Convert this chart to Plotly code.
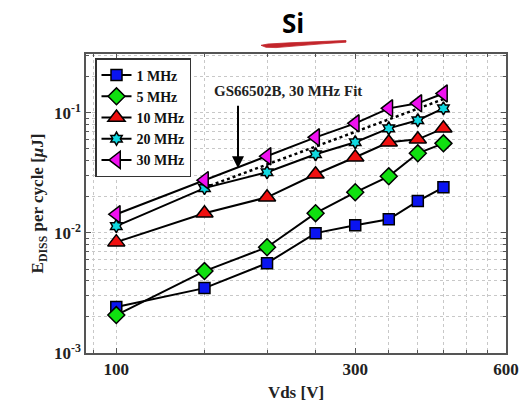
import numpy as np
import plotly.graph_objects as go

# Drain-source voltage sweep [V]
vds = [100, 150, 200, 250, 300, 350, 400, 450]

# Energy dissipated per switching cycle [uJ] at each frequency
e_1mhz = [0.00242, 0.00347, 0.00560, 0.00996, 0.0116, 0.0130, 0.0184, 0.0240]
e_5mhz = [0.00207, 0.00481, 0.00760, 0.0146, 0.0218, 0.0296, 0.0460, 0.0557]
e_10mhz = [0.00838, 0.0146, 0.0198, 0.0308, 0.0427, 0.0569, 0.0602, 0.0743]
e_20mhz = [0.0114, 0.0236, 0.0320, 0.0452, 0.0569, 0.0743, 0.0867, 0.109]
e_30mhz = [0.0143, 0.0275, 0.0435, 0.0625, 0.0818, 0.109, 0.120, 0.145]

# GaN reference device power-law fit at 30 MHz (straight on log-log)
fit_vds = [150, 450]
fit_e = [0.0238, 0.130]

labels = ["1 MHz", "5 MHz", "10 MHz", "20 MHz", "30 MHz"]
x_ticks = [100, 300, 600]
x_tick_text = ["100", "300", "600"]
y_ticks = [0.001, 0.01, 0.1]
y_tick_text = ["10<sup>-3</sup>", "10<sup>-2</sup>", "10<sup>-1</sup>"]
x_minor = [90, 150, 200, 250, 350, 400, 450, 500, 550]
y_minor = [m * d for d in (0.001, 0.01, 0.1) for m in range(2, 10) if m * d < 0.32]

# annotation anchor (arrow tip) for the fit label
arrow_v, arrow_e = 175, 0.0345
label_v, label_e = 220, 0.151

serif = "Liberation Serif"
W, H = 528, 406
L, R, T, B = 86, 22, 54, 53

styles = [
    dict(symbol="square", size=11, color="#0a14f0"),
    dict(symbol="diamond", size=13, color="#10e010"),
    dict(symbol="triangle-up", size=15, color="#f01010"),
    dict(symbol="hexagram", size=10, color="#10d8e0"),
    dict(symbol="triangle-left", size=15, color="#f010f0"),
]
series = [e_1mhz, e_5mhz, e_10mhz, e_20mhz, e_30mhz]

fig = go.Figure()

fig.add_trace(go.Scatter(
    x=fit_vds, y=fit_e, mode="lines", showlegend=False,
    line=dict(color="black", width=2.5, dash="dot"), hoverinfo="skip",
))

for name, ys, st in zip(labels, series, styles):
    fig.add_trace(go.Scatter(
        x=vds, y=ys, mode="lines+markers", name=f"<b>{name}</b>",
        line=dict(color="black", width=2),
        marker=dict(symbol=st["symbol"], size=st["size"], color=st["color"],
                    line=dict(color="black", width=1.5)),
    ))


def px_to_paper(px, py):
    return (px - L) / (W - L - R), (H - B - py) / (H - T - B)


# hand-drawn red underline beneath the title
stroke = [(346, 40.5), (320, 41.6), (290, 42.8), (268, 44.0), (261, 45.3),
          (266, 47.3), (276, 47.6), (300, 45.6), (325, 43.6), (346, 42.2)]
pts = [px_to_paper(a, b) for a, b in stroke]
path = "M " + " L ".join(f"{a:.4f},{b:.4f}" for a, b in pts) + " Z"

fig.add_shape(type="path", path=path, xref="paper", yref="paper",
              fillcolor="#c3252b", line=dict(color="#c3252b", width=0.8))

sx, sy = px_to_paper(293, 23)
fig.add_annotation(text="<b>Si</b>", xref="paper", yref="paper", x=sx, y=sy,
                   showarrow=False, font=dict(family="Open Sans", size=26, color="black"),
                   xanchor="center", yanchor="middle")

fig.add_annotation(text="<b>GS66502B, 30 MHz Fit</b>", x=np.log10(label_v), y=np.log10(label_e),
                   xref="x", yref="y", showarrow=False,
                   font=dict(family=serif, size=15, color="#222"))
fig.add_annotation(text="", x=np.log10(arrow_v), y=np.log10(arrow_e), xref="x", yref="y",
                   ax=0, ay=-64, showarrow=True, arrowhead=2, arrowsize=1.2,
                   arrowwidth=2, arrowcolor="black")

axis_common = dict(
    type="log", showline=True, linecolor="#555", linewidth=1.5, mirror="ticks",
    ticks="inside", ticklen=5, tickcolor="#555", tickwidth=1,
    showgrid=True, gridcolor="#c8c8c8", griddash="dot", gridwidth=1,
    zeroline=False, automargin=False,
    tickfont=dict(family=serif, size=17, color="#222"),
)

fig.update_xaxes(
    **axis_common,
    range=[np.log10(87), np.log10(600)],
    tickvals=x_ticks, ticktext=[f"<b>{t}</b>" for t in x_tick_text],
    minor=dict(tickvals=x_minor, ticks="inside", ticklen=3, tickcolor="#555",
               showgrid=True, gridcolor="#c8c8c8", griddash="dot"),
    title=dict(text="<b>Vds [V]</b>", font=dict(family=serif, size=17, color="#222"), standoff=8),
)
fig.update_yaxes(
    **axis_common,
    range=[-3, -0.51],
    tickvals=y_ticks, ticktext=[f"<b>{t}</b>" for t in y_tick_text],
    minor=dict(tickvals=y_minor, ticks="inside", ticklen=3, tickcolor="#555",
               showgrid=True, gridcolor="#c8c8c8", griddash="dot"),
    title=dict(text="<b>E<sub>DISS</sub> per cycle [<i>μ</i>J]</b>",
               font=dict(family=serif, size=17, color="#222"), standoff=6),
)

lx, ly = px_to_paper(95, 58)
fig.update_layout(
    width=W, height=H,
    margin=dict(l=L, r=R, t=T, b=B),
    paper_bgcolor="white", plot_bgcolor="white",
    showlegend=True,
    legend=dict(x=lx, y=ly, xanchor="left", yanchor="top",
                bgcolor="white", bordercolor="#333", borderwidth=1.5,
                font=dict(family=serif, size=14, color="#111"),
                itemwidth=30, tracegroupgap=0),
)

fig.write_html("out.html")
